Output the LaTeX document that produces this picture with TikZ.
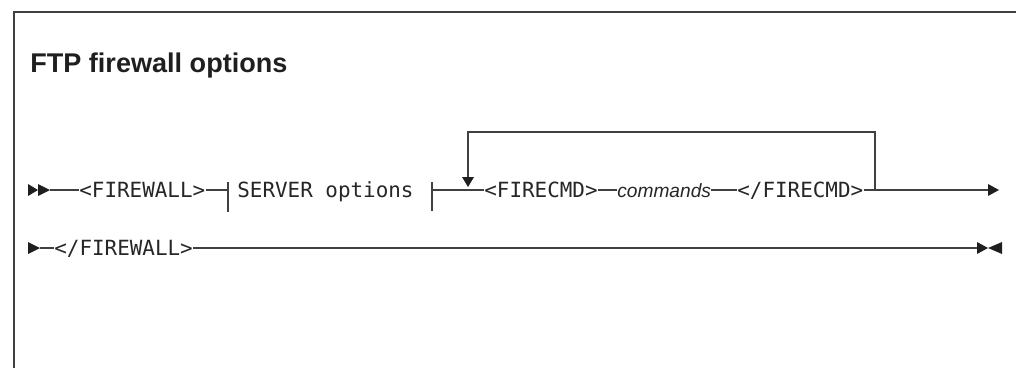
\documentclass[tikz,border=0pt]{standalone}
\usepackage{fontspec}
\setmainfont{Liberation Sans}
\newfontfamily\monof{DejaVu Sans Mono}
\begin{document}
\begin{tikzpicture}[x=0.02cm,y=-0.02cm,
  rail/.style={draw=black!75, line width=0.8pt},
  frame/.style={draw=black!75, line width=1.1pt},
  tip/.style={fill=black!88},
  kw/.style={anchor=base west, inner sep=0pt, text=black!85, font=\monof\fontsize{11.9}{14}\selectfont},
  var/.style={anchor=base west, inner sep=0pt, text=black!85, font=\itshape\fontsize{10.9}{13}\selectfont},
  ttl/.style={anchor=base west, inner sep=0pt, text=black!88, font=\bfseries\fontsize{15.4}{18}\selectfont}]
\useasboundingbox (0,0) rectangle (1016,368);
% frame
\draw[frame] (14,368) -- (14,12) -- (1016,12);
\node[ttl] (title) at (30,72) {FTP firewall options};
% row 1 nodes
\node[kw] (fw)  at (79,197) {<FIREWALL>};
\node[kw] (srv) at (237,197) {SERVER options};
\node[kw] (fc)  at (484,197) {<FIRECMD>};
\node[var] (cmd) at (617,197) {commands};
\node[kw] (efc) at (737,197) {</FIRECMD>};
% row 1 coordinates
\coordinate (s1) at (50,190);
\coordinate (t1) at (228,190);
\coordinate (t2) at (432,190);
\coordinate (lp) at (468,190);
\coordinate (rp) at (875,190);
\coordinate (e1) at (988,190);
% start double arrow
\fill[tip] (28,184) -- (38,190) -- (28,196) -- cycle;
\fill[tip] (38,184) -- (50,190) -- (38,196) -- cycle;
\draw[rail] (s1) -- (fw.west |- s1);
\draw[rail] (fw.east |- t1) -- (t1);
\draw[rail] (228,182) -- (228,212);
\draw[rail] (432,182) -- (432,211);
\draw[rail] (t2) -- (fc.west |- t2);
\draw[rail] (fc.east |- t2) -- (cmd.west |- t2);
\draw[rail] (cmd.east |- t2) -- (efc.west |- t2);
\draw[rail] (efc.east |- t2) -- (e1);
\fill[tip] (988,184) -- (999,190) -- (988,196) -- cycle;
% loop
\draw[rail] (rp) -- (875,132) -- (468,132) -- (468,178);
\fill[tip] (462,177) -- (474,177) -- (468,187) -- cycle;
% row 2
\node[kw] (efw) at (54,255) {</FIREWALL>};
\coordinate (s2) at (40,248);
\coordinate (e2) at (977,248);
\fill[tip] (28,242) -- (40,248) -- (28,254) -- cycle;
\draw[rail] (s2) -- (efw.west |- s2);
\draw[rail] (efw.east |- s2) -- (e2);
\fill[tip] (977,242) -- (988,248) -- (977,254) -- cycle;
\fill[tip] (1002,242) -- (988,248) -- (1002,254) -- cycle;
\end{tikzpicture}
\end{document}
